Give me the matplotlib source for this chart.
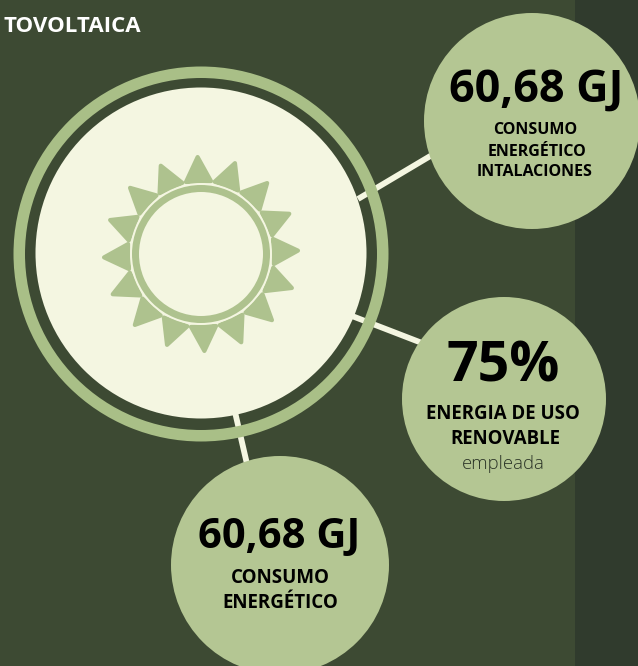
import matplotlib
matplotlib.use('Agg')
import matplotlib.pyplot as plt
from matplotlib.patches import Circle, Polygon, Rectangle, Wedge
import numpy as np

plt.rcParams['font.family'] = ['Open Sans', 'DejaVu Sans']

W, H = 638, 666

BG_LEFT = '#3d4a33'
BG_RIGHT = '#303b2d'
RING = '#a9bf87'
BUBBLE = '#b4c693'
CREAM = '#f4f6e1'
RAY = '#aec28e'

# bubbles: centre x, centre y, radius
bubble_x = [532, 504, 280]
bubble_y = [121, 399, 565]
bubble_r = [108, 102, 109]

big_values = ['60,68 GJ', '75%', '60,68 GJ']
labels_top = ['CONSUMO', 'ENERGÉTICO', 'INTALACIONES']
labels_mid = ['ENERGIA DE USO', 'RENOVABLE']
labels_bottom = ['CONSUMO', 'ENERGÉTICO']

# connector ends
line_x = [(358, 432), (352, 422), (235, 247)]
line_y = [(199, 155), (316, 343), (412, 464)]

cx, cy = 201, 254
n_rays = 16

fig = plt.figure(figsize=(W / 100, H / 100), dpi=100)
ax = fig.add_axes([0, 0, 1, 1])
ax.set_xlim(0, W)
ax.set_ylim(H, 0)
ax.axis('off')

ax.add_patch(Rectangle((0, 0), 575, H, color=BG_LEFT, lw=0, zorder=0))
ax.add_patch(Rectangle((575, 0), W - 575, H, color=BG_RIGHT, lw=0, zorder=0))

# connectors go under the ring
for xs, ys in zip(line_x, line_y):
    ax.plot(xs, ys, color=CREAM, lw=4.2, solid_capstyle='butt', zorder=1)

# big circle and ring
ax.add_patch(Circle((cx, cy - 1), 165.5, color=CREAM, lw=0, zorder=2))
ax.add_patch(Wedge((cx, cy), 187.5, 0, 360, width=11.5, color=RING, lw=0, zorder=3))

# sun, cream disc keeps the thin gap between rays and inner ring
for i in range(n_rays):
    a = np.radians(-2 + i * 360 / n_rays)
    ux, uy = np.sin(a), -np.cos(a)
    tx, ty = np.cos(a), np.sin(a)
    pts = [(cx + 72.5 * ux - 12.5 * tx, cy + 72.5 * uy - 12.5 * ty),
           (cx + 72.5 * ux + 12.5 * tx, cy + 72.5 * uy + 12.5 * ty),
           (cx + 97 * ux, cy + 97 * uy)]
    ax.add_patch(Polygon(pts, closed=True, facecolor=RAY, edgecolor=RAY, lw=3,
                         joinstyle='round', zorder=4))
ax.add_patch(Circle((cx, cy), 71, color=CREAM, lw=0, zorder=4.2))
ax.add_patch(Wedge((cx, cy), 69, 0, 360, width=7, color=RAY, lw=0, zorder=4.4))

# bubbles
for x, y, r in zip(bubble_x, bubble_y, bubble_r):
    ax.add_patch(Circle((x, y), r, color=BUBBLE, lw=0, zorder=5))

ax.text(3, 32.5, 'TOVOLTAICA', color='white', fontsize=16, fontweight='bold',
        ha='left', va='baseline', zorder=6)


def txt(x, y, s, size, weight='bold', color='black'):
    ax.text(x, y, s, fontsize=size, fontweight=weight, color=color, ha='center',
            va='baseline', zorder=6)


txt(536, 102, big_values[0], 32.3)
for s, x, y in zip(labels_top, [535, 537, 534.5], [134, 155.5, 176]):
    txt(x, y, s, 11.5)

txt(503, 382, big_values[1], 40)
for s, x, y in zip(labels_mid, [503, 505], [418.7, 443.7]):
    txt(x, y, s, 13.4)
txt(503, 469, 'empleada', 13.3, weight='light', color='#2a3326')

txt(279.5, 548, big_values[2], 30)
for s, y in zip(labels_bottom, [582.7, 607.7]):
    txt(280, y, s, 13.5)

fig.savefig('out.png', dpi=100)
